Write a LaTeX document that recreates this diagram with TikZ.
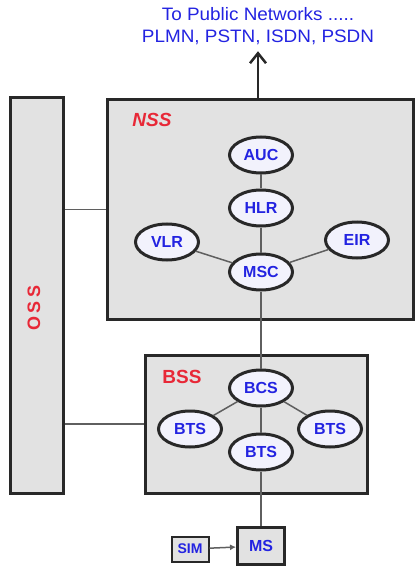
\documentclass[tikz,border=0pt]{standalone}
\usepackage{fontspec}
\setmainfont{Liberation Sans}
\usetikzlibrary{shapes.geometric,arrows.meta}
\definecolor{boxgray}{RGB}{226,226,226}
\definecolor{rimgray}{RGB}{40,40,40}
\definecolor{wiregray}{RGB}{95,95,95}
\definecolor{netblue}{RGB}{35,35,225}
\definecolor{subred}{RGB}{232,40,55}
\definecolor{unitfill}{RGB}{242,242,252}
\tikzset{
  subsys/.style={draw=rimgray, line width=3pt, fill=boxgray, inner sep=0pt},
  unit/.style={ellipse, draw=rimgray, line width=3pt, fill=unitfill, inner sep=0pt,
    minimum width=63pt, minimum height=36pt, text=netblue,
    font=\fontsize{16}{16}\selectfont\bfseries},
  tag/.style={text=subred, font=\fontsize{19}{19}\selectfont\bfseries},
  wire/.style={draw=wiregray, line width=1.5pt},
}
\begin{document}
\begin{tikzpicture}[x=1pt,y=-1pt]
\useasboundingbox (0,0) rectangle (416,569);

% subsystems
\node[subsys, minimum width=306pt, minimum height=219pt] (nss) at (260,209.5) {};
\node[subsys, minimum width=53pt, minimum height=395pt] (oss) at (36.5,295.5) {};
\node[subsys, minimum width=222pt, minimum height=138pt] (bss) at (256,424) {};
\node[tag, font=\fontsize{19}{19}\selectfont\bfseries\itshape] (nsslab) at (152,120) {NSS};
\node[tag] (bsslab) at (182,377) {BSS};
\node[tag, rotate=90, font=\fontsize{18}{18}\selectfont\bfseries\addfontfeatures{LetterSpace=18}] (osslab) at (34,308) {OSS};

% public networks
\node[text=netblue, align=center, font=\fontsize{18}{22}\selectfont, xscale=1.05] (pub) at (258,26)
  {To Public Networks .....\\PLMN, PSTN, ISDN, PSDN};
\draw[line width=2.5pt, rimgray, -{Straight Barb[length=10pt,width=16pt]}] (nss.north -| pub.south) -- ([yshift=-3pt]pub.south);

% NSS units
\node[unit] (auc) at (261,155) {AUC};
\node[unit] (hlr) at (261,208) {HLR};
\node[unit] (vlr) at (167,242) {VLR};
\node[unit] (eir) at (357,240) {EIR};
\node[unit] (msc) at (261,272) {MSC};

% BSS units
\node[unit] (bcs) at (261,388) {BCS};
\node[unit] (btsl) at (190,429) {BTS};
\node[unit] (btsr) at (330,429) {BTS};
\node[unit] (btsm) at (261,452) {BTS};

% mobile station
\node[subsys, line width=3pt, minimum width=47pt, minimum height=37pt, text=netblue,
  font=\fontsize{16}{16}\selectfont\bfseries] (ms) at (261,546) {MS};
\node[subsys, line width=2pt, minimum width=37pt, minimum height=25pt, text=netblue,
  font=\fontsize{14}{14}\selectfont\bfseries] (sim) at (190,549) {SIM};

% links
\draw[wire] (auc) -- (hlr);
\draw[wire] (hlr) -- (msc);
\draw[wire] (vlr) -- (msc);
\draw[wire] (eir) -- (msc);
\draw[wire] (msc) -- (bcs);
\draw[wire] (bcs) -- (btsl);
\draw[wire] (bcs) -- (btsr);
\draw[wire] (bcs) -- (btsm);
\draw[wire] (btsm) -- (ms);
\draw[wire] (oss.east |- nss.west) -- (nss.west);
\draw[wire] (oss.east |- bss.west) -- (bss.west);
\draw[wire, -{Latex[length=6pt,width=6pt]}] (sim) -- (ms);
\end{tikzpicture}
\end{document}
